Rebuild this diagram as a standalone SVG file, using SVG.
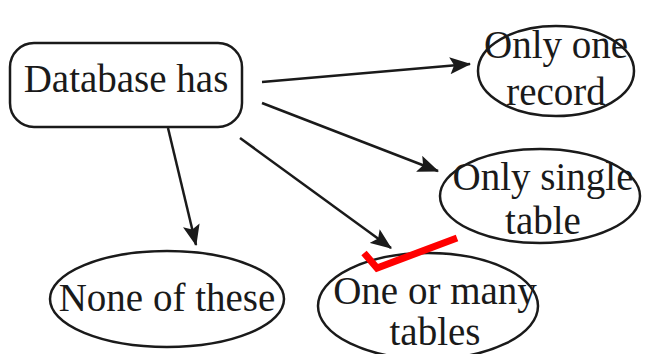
<svg xmlns="http://www.w3.org/2000/svg" width="645" height="354" viewBox="0 0 645 354">
<defs>
<style>
.n{fill:#fff;stroke:#1a1a1a;stroke-width:2.5}
.t{font-family:"Liberation Serif","Times New Roman",serif;font-size:39px;fill:#1a1a1a;text-anchor:middle}
.c{stroke:#1a1a1a;stroke-width:2.5;fill:none}
</style>
<marker id="a" viewBox="0 0 20 16" refX="19" refY="8" markerWidth="22" markerHeight="17" markerUnits="userSpaceOnUse" orient="auto">
<path d="M0,0 L20,8 L0,16 L4,8 z" fill="#1a1a1a"/>
</marker>
</defs>
<rect width="645" height="354" fill="#fff"/>
<g id="connectors">
<line class="c" x1="262" y1="82" x2="470" y2="64" marker-end="url(#a)"/>
<line class="c" x1="262" y1="103" x2="438" y2="171" marker-end="url(#a)"/>
<line class="c" x1="240" y1="138" x2="391" y2="248" marker-end="url(#a)"/>
<line class="c" x1="168" y1="128" x2="196" y2="245" marker-end="url(#a)"/>
</g>
<g id="database">
<rect class="n" x="10" y="43" width="232" height="84" rx="24"/>
<text class="t" x="126" y="92">Database has</text>
</g>
<g id="only-one-record">
<ellipse class="n" cx="556" cy="71" rx="78" ry="45"/>
<text class="t" x="556" y="58">Only one</text>
<text class="t" x="556" y="105">record</text>
</g>
<g id="only-single-table">
<ellipse class="n" cx="540" cy="196" rx="100" ry="47"/>
<text class="t" x="543" y="190">Only single</text>
<text class="t" x="543" y="234">table</text>
</g>
<g id="none-of-these">
<ellipse class="n" cx="167" cy="299" rx="117" ry="48"/>
<text class="t" x="167" y="311">None of these</text>
</g>
<g id="one-or-many-tables">
<ellipse class="n" cx="428" cy="306" rx="110" ry="53"/>
<text class="t" x="435" y="304">One or many</text>
<text class="t" x="435" y="345">tables</text>
</g>
<g id="check">
<polyline points="364,253 377,268 457,238" fill="none" stroke="#ff0000" stroke-width="7"/>
</g>
</svg>
